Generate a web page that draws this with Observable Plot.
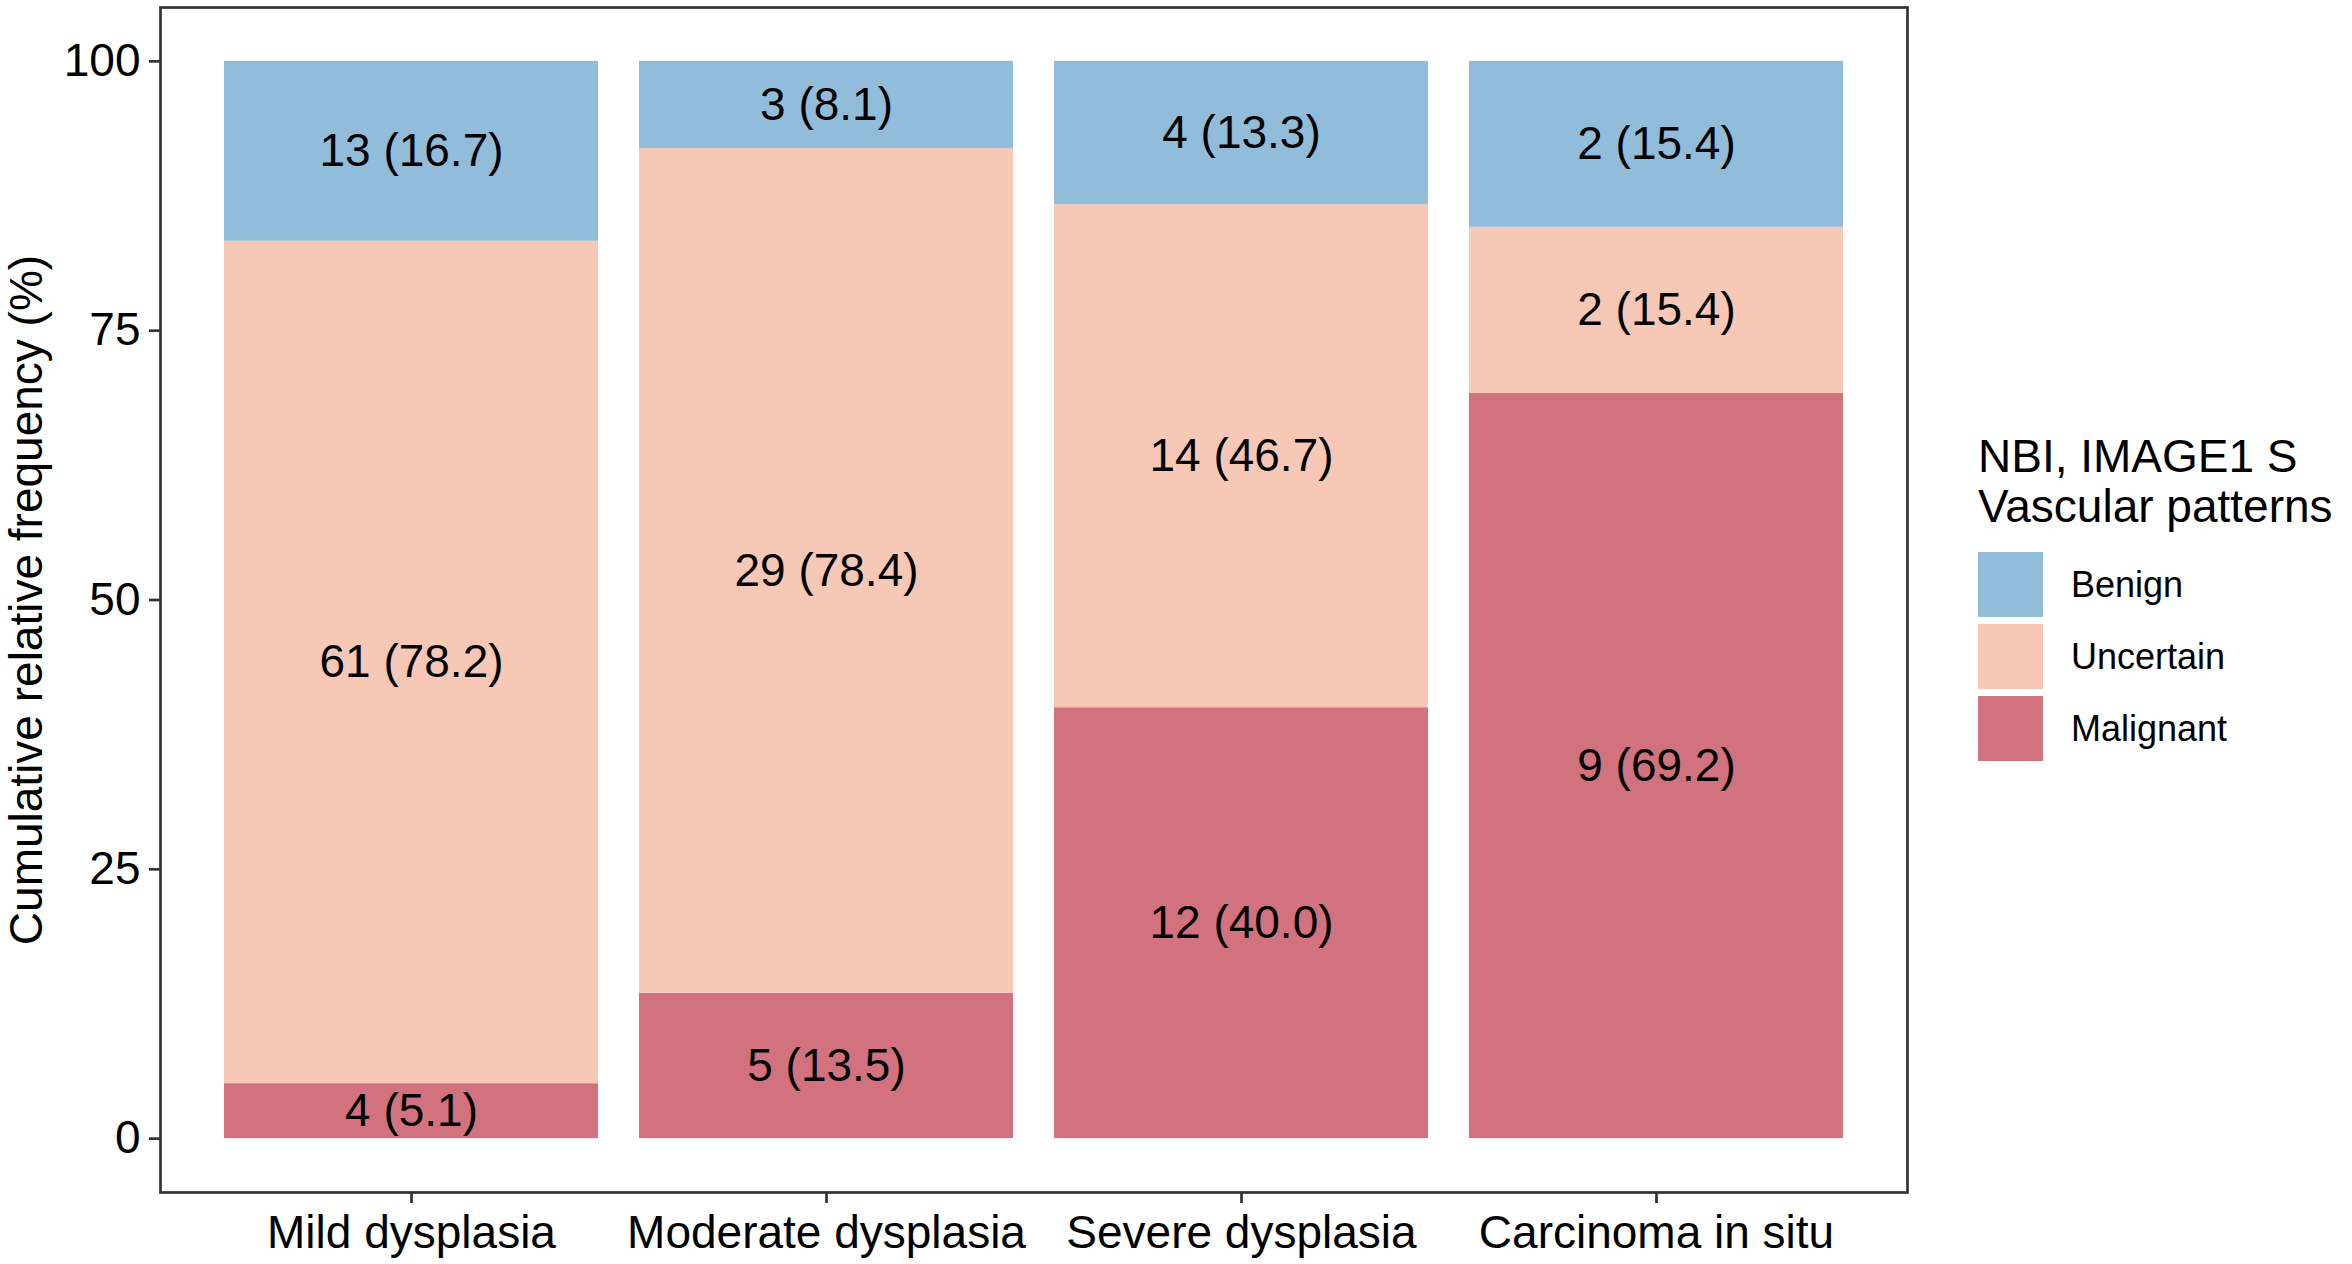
<!DOCTYPE html>
<html><head><meta charset="utf-8">
<script src="https://cdn.jsdelivr.net/npm/d3@7"></script>
<script src="https://cdn.jsdelivr.net/npm/@observablehq/plot@0.6"></script>
<style>
html,body{margin:0;padding:0;background:#fff;}
#wrap{position:relative;width:2352px;height:1264px;font-family:"Liberation Sans",Arial,sans-serif;color:#000;}
#chart{position:absolute;left:0;top:0;}
#legend{position:absolute;left:1978px;top:432px;}
#legend .title{font-size:46px;line-height:49.5px;color:#000;margin-bottom:21px;white-space:nowrap;}
.lg-swatch{padding-bottom:7px !important;}
.lg-swatch > svg{margin-right:28px !important;}
</style></head><body>
<div id="wrap"><div id="chart"></div><div id="legend"><div class="title" id="ltitle"></div><div id="lkeys"></div></div></div>
<script>
const categories = ["Mild dysplasia","Moderate dysplasia","Severe dysplasia","Carcinoma in situ"];
const patterns = ["Benign","Uncertain","Malignant"];
const patternColors = ["#91BCDA","#F7C8B5","#D1727E"];
const benignN = [13,3,4,2];
const benignPct = [16.7,8.1,13.3,15.4];
const uncertainN = [61,29,14,2];
const uncertainPct = [78.2,78.4,46.7,15.4];
const malignantN = [4,5,12,9];
const malignantPct = [5.1,13.5,40.0,69.2];
const yTicks = [0,25,50,75,100];
const yLabel = "Cumulative relative frequency (%)";
const legendTitle = ["NBI, IMAGE1 S","Vascular patterns"];

const rows = [];
categories.forEach((c,i)=>{
  rows.push({category:c, pattern:"Malignant", n:malignantN[i], pct:malignantPct[i]});
  rows.push({category:c, pattern:"Uncertain", n:uncertainN[i], pct:uncertainPct[i]});
  rows.push({category:c, pattern:"Benign", n:benignN[i], pct:benignPct[i]});
});
rows.forEach(r=>{ r.label = `${r.n} (${r.pct.toFixed(1)})`; });

const font = "Liberation Sans, Arial, sans-serif";
const chart = Plot.plot({
  width: 1950, height: 1264,
  marginLeft: 160, marginRight: 43, marginTop: 7, marginBottom: 72,
  style: {fontFamily: font, fontSize: "46px", color: "#000", background: "#fff"},
  x: {domain: categories, paddingInner: 0.1, paddingOuter: 0.15, label: null},
  y: {domain: [-5, 105], label: null},
  color: {domain: patterns, range: patternColors},
  marks: [
    Plot.barY(rows, Plot.stackY({x: "category", y: "pct", fill: "pattern"})),
    Plot.text(rows, Plot.stackY({x: "category", y: "pct", text: "label", fill: "#000", fontSize: 46})),
    Plot.frame({stroke: "#333", strokeWidth: 2.7}),
    Plot.axisY({ticks: yTicks, tickSize: 11, tickPadding: 9, stroke: "#333", strokeWidth: 2.7, label: null, fontSize: 46}),
    Plot.axisX({tickSize: 11, tickPadding: 12, stroke: "#333", strokeWidth: 2.7, label: null, fontSize: 46}),
    Plot.text([yLabel], {frameAnchor: "left", dx: -133, rotate: -90, textAnchor: "middle", lineAnchor: "middle", fontSize: 46, fill: "#000"})
  ]
});
document.getElementById("chart").appendChild(chart);

document.getElementById("ltitle").innerHTML = legendTitle.join("<br>");
const lg = Plot.legend({
  color: {type: "ordinal", domain: patterns, range: patternColors},
  legend: "swatches", columns: 1, swatchWidth: 65, swatchHeight: 65,
  className: "lg",
  style: {fontSize: "36px", fontFamily: font, color: "#000"}
});
document.getElementById("lkeys").appendChild(lg);
</script>
</body></html>
